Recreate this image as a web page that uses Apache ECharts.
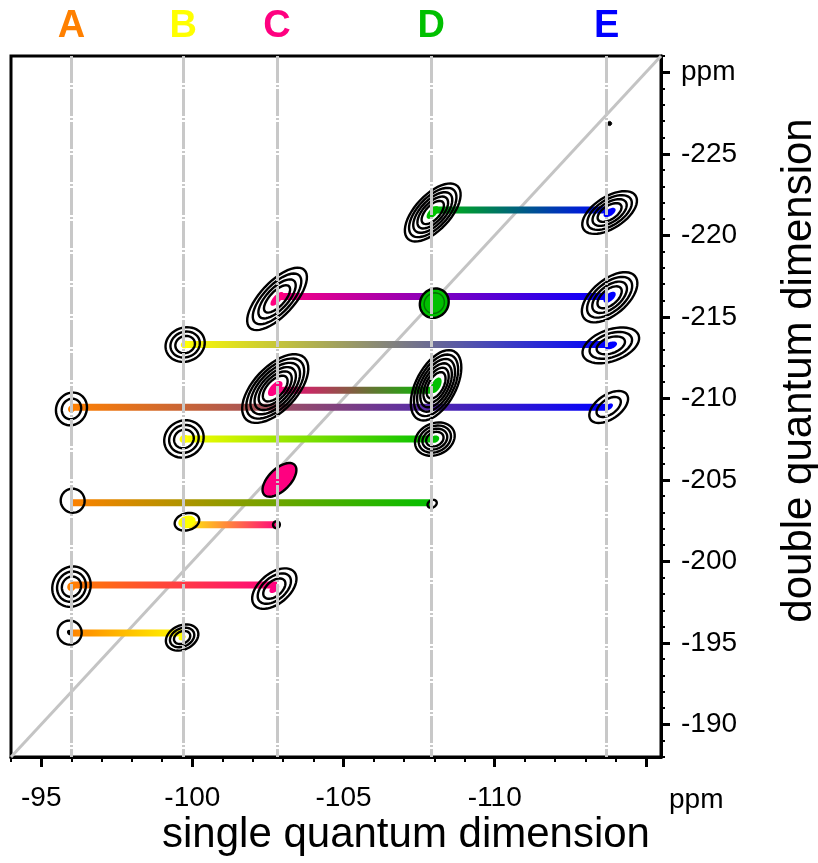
<!DOCTYPE html>
<html><head><meta charset="utf-8">
<script src="https://cdn.jsdelivr.net/npm/echarts@6/dist/echarts.min.js"></script>
<style>html,body{margin:0;padding:0;background:#fff}#c{width:818px;height:863px}</style>
</head><body><div id="c"></div>
<script>
// ---- axis ranges / ticks (ppm) ----
const xRange = [-115.5, -94];
const yRange = [-231, -188];
const xMajorTicks = [-95, -100, -105, -110, -115];
const xTickLabels = [-95, -100, -105, -110];
const yTickLabels = [-230, -225, -220, -215, -210, -205, -200, -195, -190];
const xMinorTicks = [-94,-95,-96,-97,-98,-99,-100,-101,-102,-103,-104,-105,-106,-107,-108,-109,-110,-111,-112,-113,-114,-115];
const yMinorTicks = [-231,-230,-229,-228,-227,-226,-225,-224,-223,-222,-221,-220,-219,-218,-217,-216,-215,-214,-213,-212,-211,-210,-209,-208,-207,-206,-205,-204,-203,-202,-201,-200,-199,-198,-197,-196,-195,-194,-193,-192,-191,-190,-189,-188];

// ---- sites ----
const siteNames = ['A', 'B', 'C', 'D', 'E'];
const siteShift = [-96.0, -99.7, -102.8, -107.9, -113.7];
const siteColors = ['#FF8000', '#FFFF00', '#FF0080', '#00C000', '#0000FF'];

// ---- correlations (left site, right site, double-quantum shift) ----
const pairFrom = [3, 2, 1, 2, 0, 1, 0, 1, 0, 0];
const pairTo   = [4, 4, 4, 3, 4, 3, 3, 2, 2, 1];
const pairDQ   = [-221.55, -216.25, -213.3, -210.5, -209.45, -207.5, -203.6, -202.25, -198.55, -195.6];

// ---- peaks (contours) ----
const peakSite  = [3, 4, 2, 3, 4, 1, 4, 2, 3, 0, 4, 1, 3, 2, 0, 3, 1, 2, 0, 2, 0, 1, 4];
const peakX     = [-107.95, -113.8, -102.8, -108.0, -113.8, -99.76, -113.84, -102.74, -108.06, -96.0, -113.77, -99.72, -108.02, -102.88, -96.04, -107.93, -99.82, -102.78, -96.0, -102.71, -95.94, -99.66, -113.8];
const peakY     = [-221.4, -221.4, -216.1, -215.84, -216.2, -213.3, -213.25, -210.6, -210.8, -209.35, -209.47, -207.51, -207.5, -205.0, -203.72, -203.53, -202.43, -202.25, -198.45, -198.33, -195.63, -195.33, -226.86];
const peakDX    = [0.82, 0.86, 0.90, 0.32, 0.84, 0.62, 0.92, 0.96, 0.60, 0.27, 0.60, 0.58, 0.62, 0.50, 0.34, 0.14, 0.40, 0.08, 0.34, 0.66, 0.30, 0.51, 0.05];
const peakDY    = [1.62, 1.03, 1.78, 0.72, 1.30, 0.42, 0.62, 1.90, 2.08, 0.90, 0.77, 0.62, 0.53, 0.92, 0.37, 0.15, 0.20, 0.15, 1.10, 1.02, 0.48, 0.44, 0.09];
const peakMinor = [0.58, 0.52, 0.56, 0.46, 0.58, 0.56, 0.52, 0.72, 0.66, 0.50, 0.40, 0.60, 0.52, 0.36, 0.40, 0.12, 0.28, 0.11, 0.62, 0.50, 0.40, 0.40, 0.07];
const peakLevels= [5, 4, 4, 2, 4, 3, 3, 6, 6, 2, 2, 3, 4, 1, 1, 1, 1, 1, 3, 3, 1, 3, 1];
const peakKind  = ['c','c','c','blob','c','c','c','c','c','c','c','c','c','blob','c','c','cf','c','c','c','cd','c','dot'];

const FONT = "'Liberation Sans', Arial, sans-serif";

const peakData = peakX.map((x, i) => [x, peakY[i], peakDX[i], peakDY[i], peakMinor[i], peakLevels[i], peakSite[i], i]);

function ellipse(c, u, a, b) {
  const pts = [];
  const N = 48;
  for (let i = 0; i < N; i++) {
    const t = 2 * Math.PI * i / N;
    const ca = Math.cos(t) * a, sb = Math.sin(t) * b;
    pts.push([c[0] + u[0] * ca - u[1] * sb, c[1] + u[1] * ca + u[0] * sb]);
  }
  return pts;
}
function geom(api) {
  const cx = api.value(0), cy = api.value(1);
  const c = api.coord([cx, cy]);
  const e = api.coord([cx - api.value(2), cy - api.value(3)]);
  const vx = e[0] - c[0], vy = e[1] - c[1];
  const a = Math.hypot(vx, vy);
  const b = Math.abs(api.size([api.value(4), 0])[0]);
  return { c, u: [vx / a, vy / a], a, b };
}
function darker(hex) {
  const n = parseInt(hex.slice(1), 16);
  const r = Math.round(((n >> 16) & 255) * 0.6), g = Math.round(((n >> 8) & 255) * 0.6), bl = Math.round((n & 255) * 0.6);
  return 'rgb(' + r + ',' + g + ',' + bl + ')';
}

function renderFill(params, api) {
  const i = api.value(7);
  if (peakKind[i] === 'blob' || peakKind[i] === 'dot') return null;
  const g = geom(api);
  return { type: 'polygon', shape: { points: ellipse(g.c, g.u, g.a, g.b) }, style: { fill: '#ffffff', stroke: null } };
}
function renderRings(params, api) {
  const i = api.value(7);
  const kind = peakKind[i];
  const g = geom(api);
  const n = api.value(5);
  const col = siteColors[api.value(6)];
  const children = [];
  if (kind === 'dot') {
    children.push({ type: 'polygon', shape: { points: ellipse(g.c, g.u, g.a, g.b) }, style: { fill: '#000', stroke: '#000', lineWidth: 1 } });
  } else if (kind === 'blob') {
    children.push({ type: 'polygon', shape: { points: ellipse(g.c, g.u, g.a, g.b) }, style: { fill: col, stroke: '#000', lineWidth: 2.4 } });
    if (n > 1) children.push({ type: 'polygon', shape: { points: ellipse(g.c, g.u, g.a * 0.7, g.b * 0.7) }, style: { fill: col, stroke: darker(col), lineWidth: 1.5 } });
  } else {
    if (kind === 'cf') {
      children.push({ type: 'polygon', shape: { points: ellipse(g.c, g.u, g.a * 0.7, g.b * 0.7) }, style: { fill: col, stroke: null } });
    }
    for (let k = 0; k < n; k++) {
      const f = 1 - k * 0.75 / n;
      children.push({ type: 'polygon', shape: { points: ellipse(g.c, g.u, g.a * f, g.b * f) },
        style: { fill: null, stroke: '#000', lineWidth: 2.4 } });
    }
    if (n >= 2) {
      children.push({ type: 'polygon', shape: { points: ellipse(g.c, g.u, g.a * 0.22, g.b * 0.22) },
        style: { fill: col, stroke: null } });
    }
    if (kind === 'cd') {
      children.push({ type: 'polygon', shape: { points: ellipse(g.c, g.u, g.a * 0.2, g.b * 0.25) },
        style: { fill: '#000', stroke: null } });
    }
  }
  return { type: 'group', children };
}

const series = [];
// diagonal + site guide lines
series.push({
  type: 'line', z: 1, silent: true, symbol: 'none', xAxisIndex: 0, yAxisIndex: 0,
  data: [[xRange[1], 2 * xRange[1]], [xRange[0], 2 * xRange[0]]],
  lineStyle: { color: '#C4C4C4', width: 3 },
  markLine: {
    silent: true, symbol: 'none', label: { show: false },
    lineStyle: { color: '#C8C8C8', width: 3, type: [27, 2, 2, 2] },
    data: siteShift.map(v => ({ xAxis: v }))
  }
});
series.push({ type: 'custom', z: 2, silent: true, xAxisIndex: 0, yAxisIndex: 0, data: peakData, renderItem: renderFill });
pairDQ.forEach((dq, i) => {
  series.push({
    type: 'line', z: 3, silent: true, symbol: 'none', xAxisIndex: 0, yAxisIndex: 0,
    data: [[siteShift[pairFrom[i]], dq], [siteShift[pairTo[i]], dq]],
    lineStyle: {
      width: 7, cap: 'butt',
      color: { type: 'linear', x: 0, y: 0, x2: 1, y2: 0,
        colorStops: [{ offset: 0, color: siteColors[pairFrom[i]] }, { offset: 1, color: siteColors[pairTo[i]] }] }
    }
  });
});
series.push({ type: 'custom', z: 4, silent: true, xAxisIndex: 0, yAxisIndex: 0, data: peakData, renderItem: renderRings });

const chart = echarts.init(document.getElementById('c'), null, { renderer: 'canvas' });
chart.setOption({
  animation: false,
  backgroundColor: '#ffffff',
  grid: { left: 11, right: 157, top: 56, bottom: 106, containLabel: false, outerBoundsMode: 'none',
    show: true, borderColor: '#000', borderWidth: 3, backgroundColor: 'transparent' },
  xAxis: [
    {
      type: 'value', min: xRange[0], max: xRange[1], inverse: true, position: 'bottom',
      axisLine: { show: true, lineStyle: { color: '#000', width: 3 } },
      axisTick: { show: true, customValues: xMajorTicks, length: 10, lineStyle: { color: '#000', width: 3 } },
      axisLabel: { show: true, customValues: xTickLabels, fontSize: 28, fontFamily: FONT, color: '#000', margin: 27 },
      splitLine: { show: false },
      name: 'ppm', nameLocation: 'start', nameGap: 8,
      nameTextStyle: { fontSize: 28, fontFamily: FONT, color: '#000', align: 'left', verticalAlign: 'top', padding: [29, 0, 0, 0] }
    },
    {
      type: 'value', min: xRange[0], max: xRange[1], inverse: true, position: 'bottom',
      axisLine: { show: false },
      axisTick: { show: true, customValues: xMinorTicks, length: 5, lineStyle: { color: '#000', width: 2 } },
      axisLabel: { show: false }, splitLine: { show: false },
      name: 'single quantum dimension', nameLocation: 'middle', nameGap: 57,
      nameTextStyle: { fontSize: 42, fontFamily: FONT, color: '#000', padding: [0, 0, 0, 140] }
    },
    {
      type: 'value', min: xRange[0], max: xRange[1], inverse: true, position: 'top',
      axisLine: { show: false }, axisTick: { show: false }, splitLine: { show: false },
      axisLabel: {
        show: true, customValues: siteShift, margin: 10, fontSize: 38, fontWeight: 'bold', fontFamily: FONT,
        formatter: v => siteNames[siteShift.indexOf(v)],
        color: v => siteColors[siteShift.indexOf(Number(v))]
      }
    }
  ],
  yAxis: [
    {
      type: 'value', min: yRange[0], max: yRange[1], inverse: true, position: 'right',
      axisLine: { show: true, lineStyle: { color: '#000', width: 3 } },
      axisTick: { show: true, customValues: yTickLabels, length: 9, lineStyle: { color: '#000', width: 3 } },
      axisLabel: { show: true, customValues: yTickLabels, fontSize: 28, fontFamily: FONT, color: '#000', margin: 20,
        formatter: v => (v === -230 ? 'ppm' : String(v)) },
      splitLine: { show: false },
      name: 'double quantum dimension', nameLocation: 'middle', nameGap: 117, nameRotate: 90,
      nameTextStyle: { fontSize: 42, fontFamily: FONT, color: '#000', padding: [0, 0, 0, 72] }
    },
    {
      type: 'value', min: yRange[0], max: yRange[1], inverse: true, position: 'right',
      axisLine: { show: false },
      axisTick: { show: true, customValues: yMinorTicks, length: 4, lineStyle: { color: '#000', width: 2 } },
      axisLabel: { show: false }, splitLine: { show: false }
    }
  ],
  series
});
</script></body></html>
